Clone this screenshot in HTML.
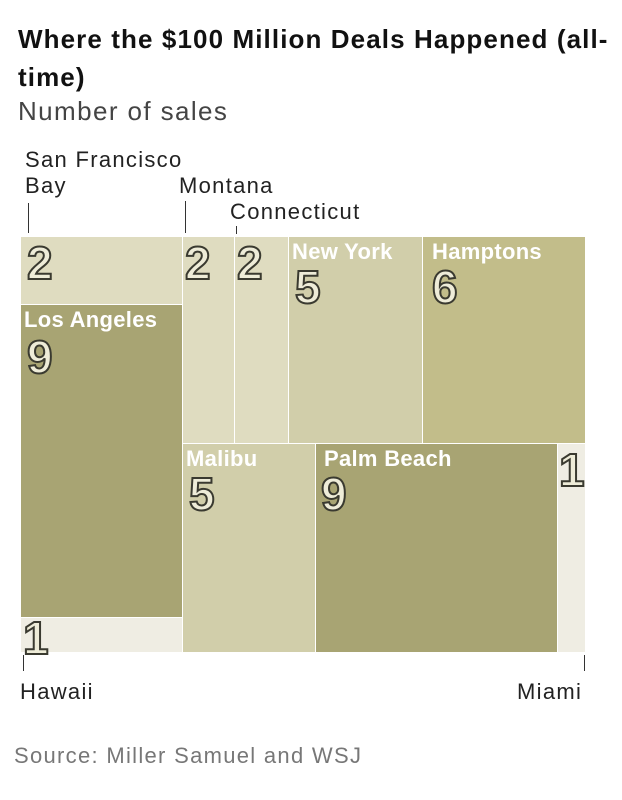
<!DOCTYPE html>
<html><head><meta charset="utf-8"><style>
body{margin:0;width:622px;height:800px;background:#fff;font-family:"Liberation Sans",sans-serif;position:relative;overflow:hidden;color:#222}
.a{position:absolute}
.r{position:absolute;box-sizing:border-box}
.n{position:absolute;font-weight:bold;font-size:46px;line-height:44px;color:#eeecd8;-webkit-text-stroke:2px #3a3a30;left:6px}
.l{position:absolute;left:3px;top:2px;color:#fff;font-weight:bold;font-size:22px;letter-spacing:0.3px;white-space:nowrap}
.lab{position:absolute;font-size:22px;color:#222;line-height:26px;letter-spacing:1.3px;white-space:nowrap}
.tk{position:absolute;width:1px;background:#333}
</style></head><body>
<div class="a" style="left:18px;top:20px;width:610px;font-weight:bold;font-size:26px;line-height:38px;color:#111;letter-spacing:1.1px">Where the $100 Million Deals Happened (all-time)</div>
<div class="a" style="left:18px;top:96px;font-size:26px;color:#444;letter-spacing:1.4px">Number of sales</div>

<div class="lab" style="left:25px;top:147px">San Francisco<br>Bay</div>
<div class="tk" style="left:28px;top:203px;height:30px"></div>
<div class="lab" style="left:179px;top:173px">Montana</div>
<div class="tk" style="left:185px;top:201px;height:32px"></div>
<div class="lab" style="left:230px;top:199px">Connecticut</div>
<div class="tk" style="left:236px;top:226px;height:8px"></div>

<div class="r" style="left:21px;top:237px;width:161px;height:67px;background:#dfdcc0"><div class="n" style="top:4px">2</div></div>
<div class="r" style="left:21px;top:305px;width:161px;height:312px;background:#a8a473"><div class="l">Los Angeles</div><div class="n" style="top:30px">9</div></div>
<div class="r" style="left:21px;top:618px;width:161px;height:34px;background:#efede3"><div class="n" style="top:-2px;left:2px">1</div></div>
<div class="r" style="left:183px;top:237px;width:51px;height:206px;background:#dfdcc0"><div class="n" style="top:4px;left:2px">2</div></div>
<div class="r" style="left:235px;top:237px;width:53px;height:206px;background:#dfdcc0"><div class="n" style="top:4px;left:2px">2</div></div>
<div class="r" style="left:289px;top:237px;width:133px;height:206px;background:#d1ceaa"><div class="l">New York</div><div class="n" style="top:28px">5</div></div>
<div class="r" style="left:423px;top:237px;width:162px;height:206px;background:#c2bd8a"><div class="l" style="left:9px">Hamptons</div><div class="n" style="top:28px;left:9px">6</div></div>
<div class="r" style="left:183px;top:444px;width:132px;height:208px;background:#d1ceaa"><div class="l">Malibu</div><div class="n" style="top:28px">5</div></div>
<div class="r" style="left:316px;top:444px;width:241px;height:208px;background:#a8a473"><div class="l" style="left:8px">Palm Beach</div><div class="n" style="top:28px;left:5px">9</div></div>
<div class="r" style="left:558px;top:444px;width:27px;height:208px;background:#efede3"><div class="n" style="top:4px;left:1px">1</div></div>

<div class="tk" style="left:23px;top:655px;height:16px"></div>
<div class="lab" style="left:20px;top:679px">Hawaii</div>
<div class="tk" style="left:584px;top:655px;height:16px"></div>
<div class="lab" style="left:517px;top:679px">Miami</div>

<div class="a" style="left:14px;top:743px;font-size:22px;color:#777;letter-spacing:1.3px">Source: Miller Samuel and WSJ</div>
</body></html>
